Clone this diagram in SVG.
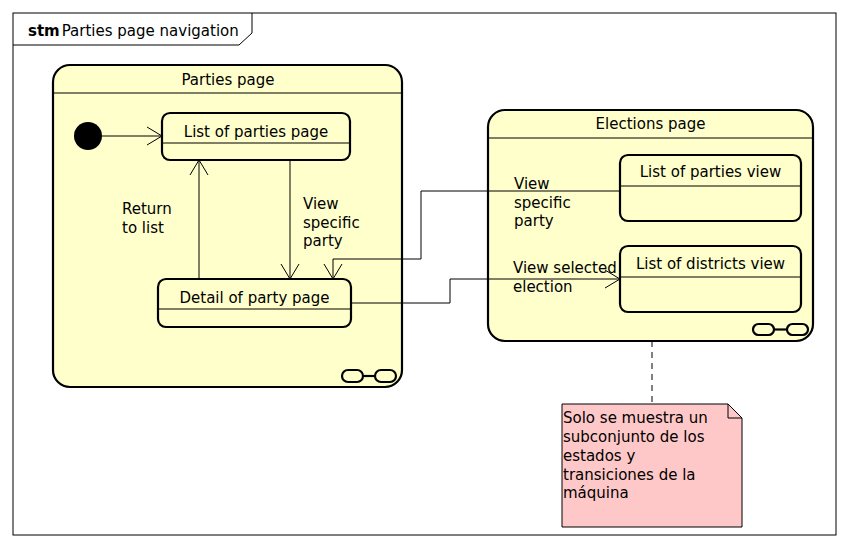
<svg xmlns="http://www.w3.org/2000/svg" width="850" height="548" viewBox="0 0 850 548">
<style>
text{font-family:"DejaVu Sans","Liberation Sans",sans-serif;font-size:15px;fill:#000}
.c{text-anchor:middle}
.state{fill:#FFFFCC;stroke:#000;stroke-width:2.2}
.sep{stroke:#000;stroke-width:1.2}
.conn{fill:none;stroke:#000;stroke-width:1}
.icon{fill:none;stroke:#000;stroke-width:2.2}
</style>
<defs>
<marker id="arr" markerUnits="userSpaceOnUse" markerWidth="18" markerHeight="22" viewBox="-17 -11 18 22" refX="0" refY="0" orient="auto">
<path d="M-15,-9 L0,0 L-15,9" fill="none" stroke="#000" stroke-width="1"/>
</marker>
</defs>
<rect x="0" y="0" width="850" height="548" fill="#fff"/>
<g id="frame">
<rect x="13" y="13" width="823" height="522" fill="#fff" stroke="#000" stroke-width="1"/>
<path d="M13,45 L239,45 L252,33 L252,13" fill="none" stroke="#000" stroke-width="1"/>
<text x="28" y="36"><tspan font-weight="bold">stm</tspan><tspan dx="2">Parties page navigation</tspan></text>
</g>
<g id="parties-page">
<rect class="state" x="53" y="65" width="349" height="322" rx="17"/>
<line class="sep" x1="53" y1="93" x2="402" y2="93"/>
<text class="c" x="228" y="85">Parties page</text>
<rect class="icon" x="342" y="370" width="21" height="12" rx="6"/>
<line class="icon" x1="363" y1="376" x2="375" y2="376"/>
<rect class="icon" x="375" y="370" width="21" height="12" rx="6"/>
</g>
<g id="initial">
<circle cx="88" cy="136" r="14" fill="#000"/>
</g>
<g id="list-parties-page">
<rect class="state" x="162" y="113" width="188" height="47" rx="8"/>
<line class="sep" x1="162" y1="143" x2="350" y2="143"/>
<text class="c" x="256" y="137">List of parties page</text>
</g>
<g id="detail-party-page">
<rect class="state" x="158" y="279" width="193" height="48" rx="8"/>
<line class="sep" x1="158" y1="309" x2="351" y2="309"/>
<text class="c" x="254.5" y="303">Detail of party page</text>
</g>
<g id="elections-page">
<rect class="state" x="488" y="110" width="325" height="231" rx="17"/>
<line class="sep" x1="488" y1="138" x2="813" y2="138"/>
<text class="c" x="650.5" y="129">Elections page</text>
<rect class="icon" x="753" y="324" width="21" height="11" rx="5.5"/>
<line class="icon" x1="774" y1="329.5" x2="787" y2="329.5"/>
<rect class="icon" x="787" y="324" width="21" height="11" rx="5.5"/>
</g>
<g id="list-parties-view">
<rect class="state" x="620" y="155" width="181" height="66" rx="8"/>
<line class="sep" x1="620" y1="186" x2="801" y2="186"/>
<text class="c" x="710.5" y="177">List of parties view</text>
</g>
<g id="list-districts-view">
<rect class="state" x="620" y="246" width="181" height="66" rx="8"/>
<line class="sep" x1="620" y1="277" x2="801" y2="277"/>
<text class="c" x="710.5" y="269">List of districts view</text>
</g>
<g id="note">
<path d="M562,404 L728,404 L742,418 L742,527 L562,527 Z" fill="#FFC8C8" stroke="#000" stroke-width="1"/>
<path d="M728,404 L728,418 L742,418" fill="none" stroke="#000" stroke-width="1"/>
<text x="563" y="423">Solo se muestra un</text>
<text x="563" y="442">subconjunto de los</text>
<text x="563" y="461">estados y</text>
<text x="563" y="480">transiciones de la</text>
<text x="563" y="498">máquina</text>
</g>
<g id="connectors">
<line class="conn" x1="102" y1="136" x2="162" y2="136" marker-end="url(#arr)"/>
<line class="conn" x1="199" y1="279" x2="199" y2="160" marker-end="url(#arr)"/>
<line class="conn" x1="290" y1="160" x2="290" y2="279" marker-end="url(#arr)"/>
<polyline class="conn" points="620,191 421,191 421,259 333,259 333,279" marker-end="url(#arr)"/>
<polyline class="conn" points="351,303 450,303 450,279 620,279" marker-end="url(#arr)"/>
<line class="conn" x1="652" y1="341" x2="652" y2="404" stroke-dasharray="6,5"/>
<text x="122" y="214">Return</text>
<text x="122" y="233">to list</text>
<text x="303" y="209">View</text>
<text x="303" y="228">specific</text>
<text x="303" y="246">party</text>
<text x="514" y="189">View</text>
<text x="514" y="208">specific</text>
<text x="514" y="226">party</text>
<text x="513" y="273">View selected</text>
<text x="513" y="292">election</text>
</g>
</svg>
